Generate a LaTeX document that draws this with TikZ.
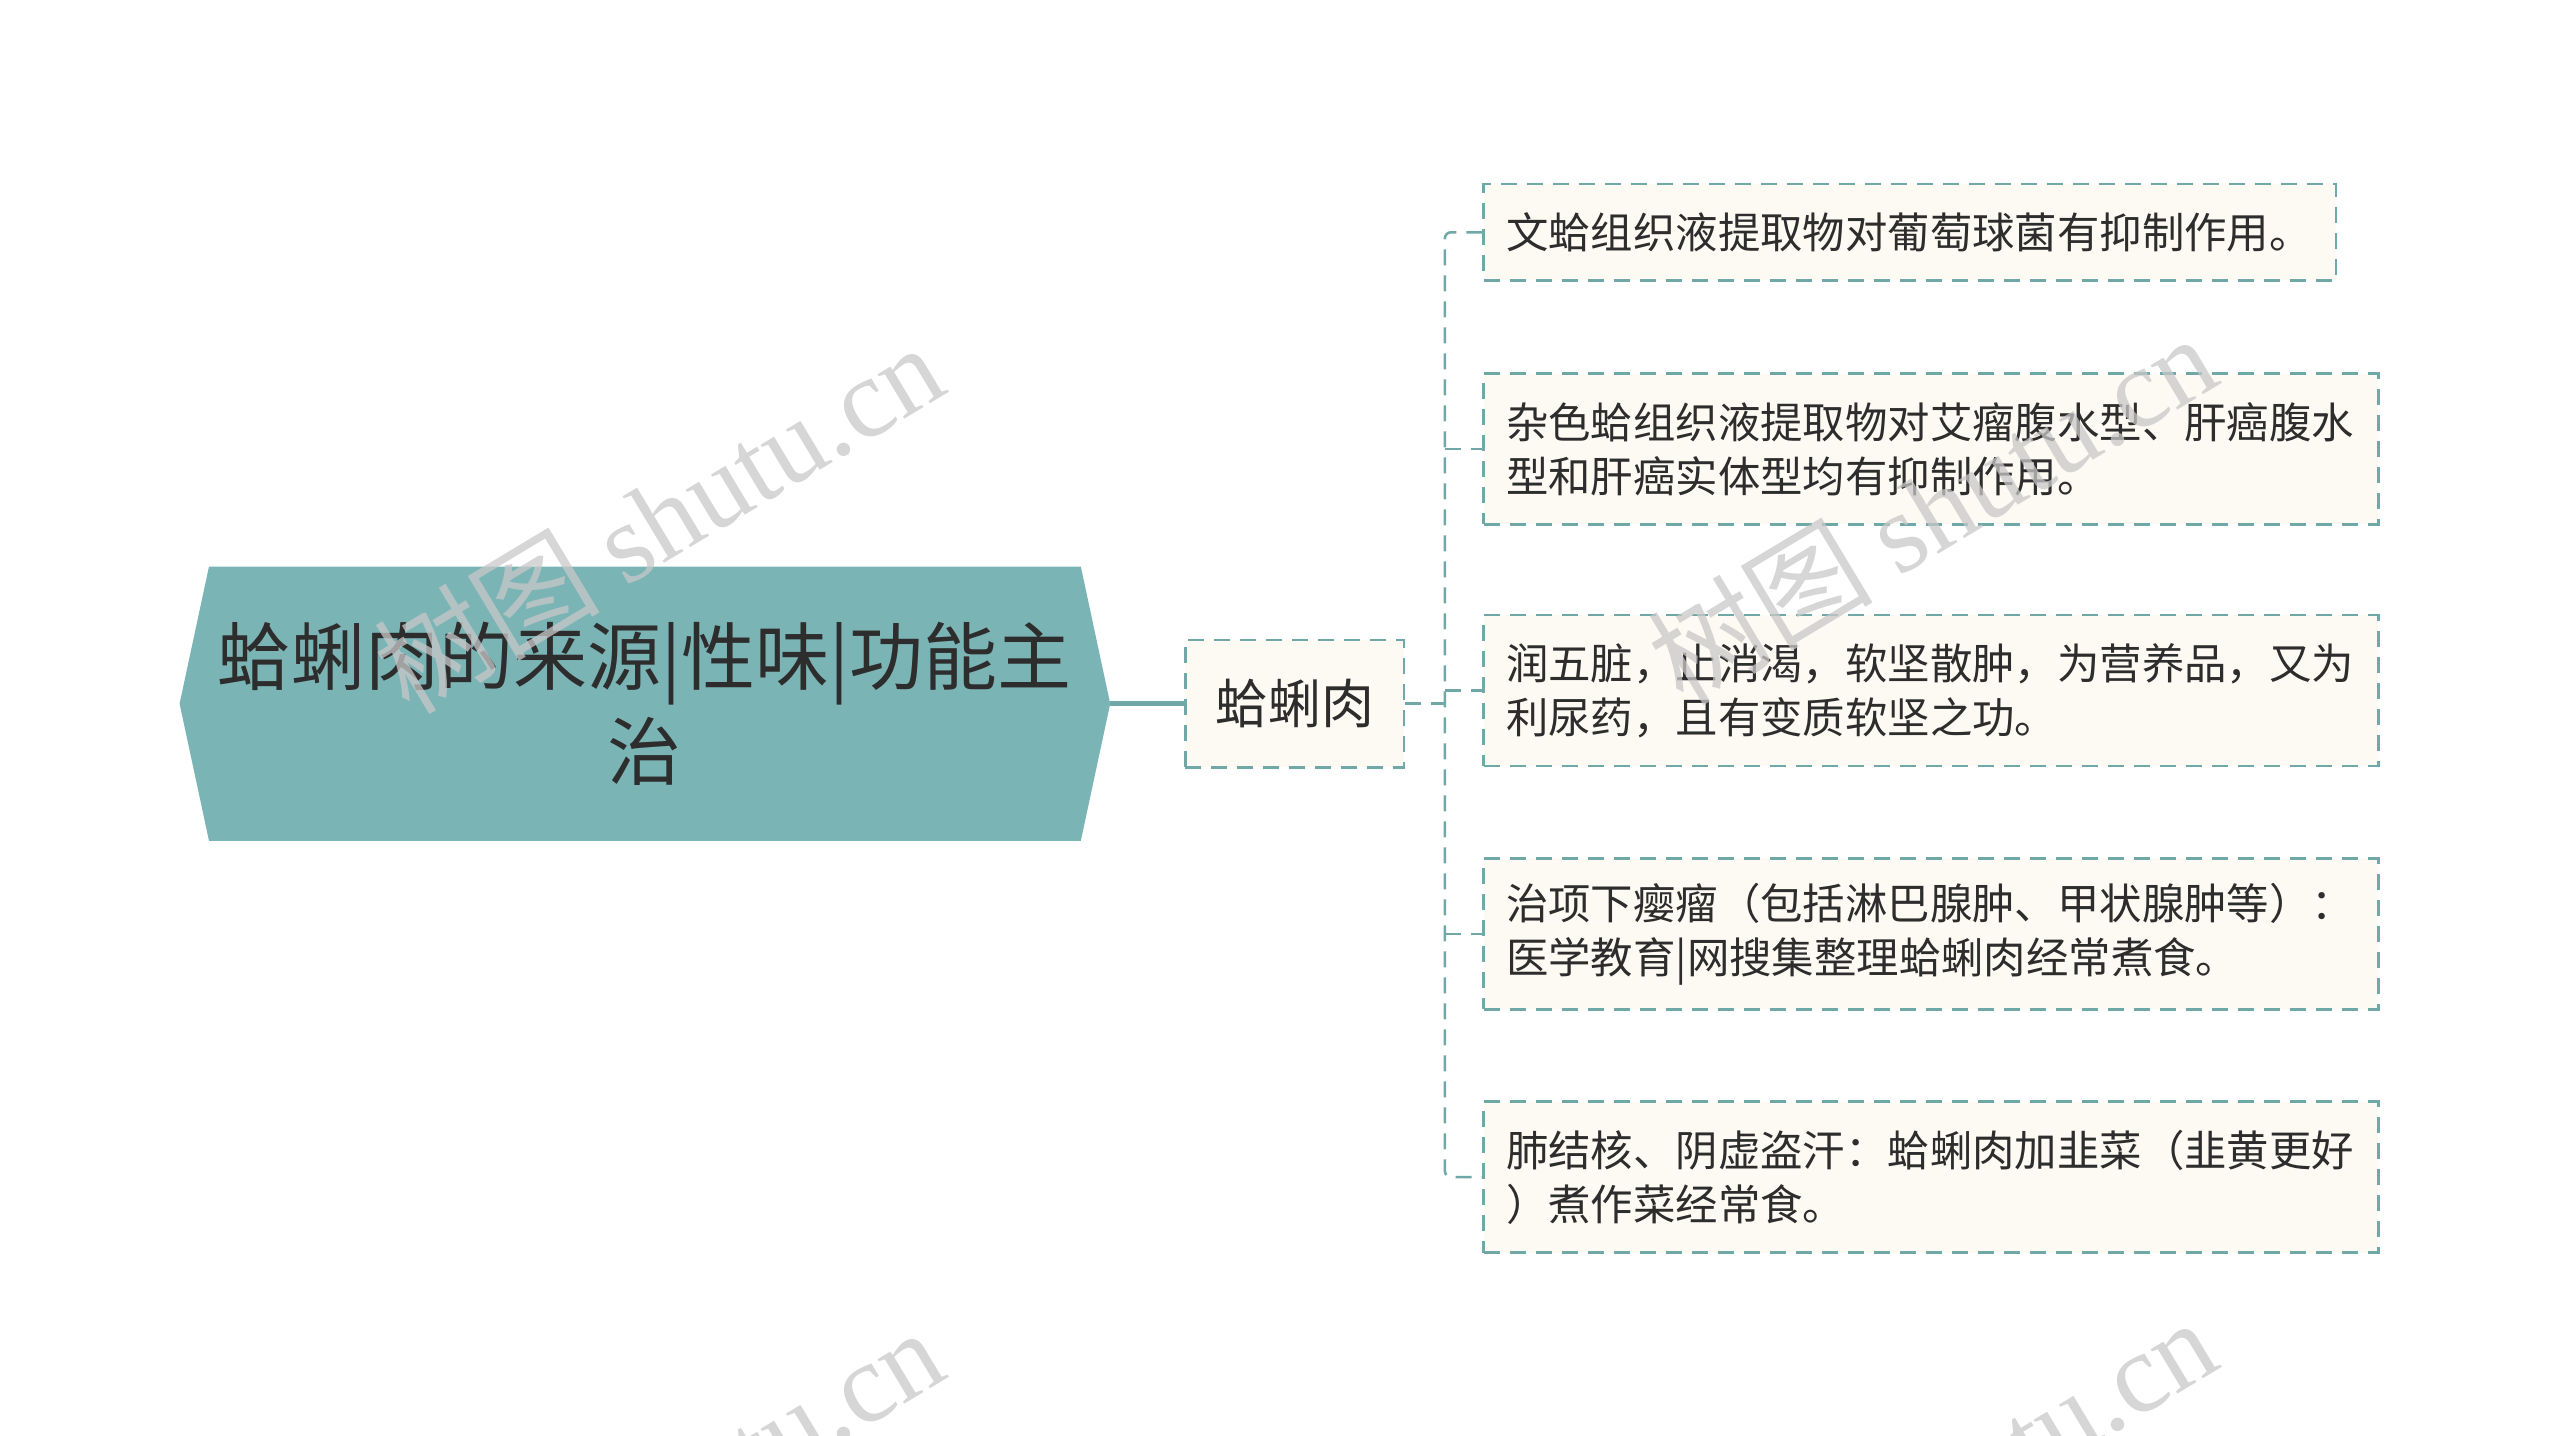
\documentclass[tikz,border=0pt]{standalone}
\usepackage{fontspec}
\setmainfont{Noto Sans CJK SC}
\newfontfamily\wmlatin{Liberation Serif}
\usetikzlibrary{calc}
\definecolor{rootfill}{RGB}{123,180,181}
\definecolor{bordc}{RGB}{112,168,168}
\definecolor{leaffill}{RGB}{252,250,242}
\definecolor{txt}{RGB}{45,45,45}
\definecolor{wm}{RGB}{200,200,200}
\begin{document}
\begin{tikzpicture}[x=1.6327pt,y=-1.6327pt,
  dashedbox/.style={draw=bordc, line width=2.5pt, dash pattern=on 16pt off 10pt, fill=leaffill, text=txt},
  leafbox/.style={dashedbox, anchor=north west, inner xsep=22.35pt, inner ysep=0pt, align=left,
    font=\fontsize{42.4pt}{54pt}\selectfont},
  leafone/.style={leafbox, text width=807.6pt, minimum height=96.3pt},
  leaftwo/.style={leafbox, text width=850pt, minimum height=151pt},
  midbox/.style={dashedbox, minimum width=218.8pt, minimum height=127.3pt, inner sep=0pt,
    font=\fontsize{53pt}{60pt}\selectfont},
  roottext/.style={text=txt, align=center, inner sep=0pt, font=\fontsize{74pt}{95pt}\selectfont},
  conn/.style={draw=bordc, line width=2.5pt, dash pattern=on 16pt off 10pt},
  solidconn/.style={draw=bordc, line width=5pt},
  wmark/.style={text=wm, text opacity=0.75, rotate=31, inner sep=0pt, font=\fontsize{113pt}{113pt}\selectfont}
]
\useasboundingbox (0,0) rectangle (1568,879);
% root
\fill[rootfill] (110,431) -- (128,347) -- (662,347) -- (680,431) -- (662,515) -- (128,515) -- cycle;
\node[roottext] (root) at (395,431) {蛤蜊肉的来源|性味|功能主\\治};
\coordinate (rootE) at (680,431);
% middle
\node[midbox] (mid) at (793,431) {蛤蜊肉};
\draw[solidconn] (rootE) -- (mid.west);
% leaves
\node[leafone] (l1) at (908,112) {文蛤组织液提取物对葡萄球菌有抑制作用。};
\node[leaftwo] (l2) at (908,228) {杂色蛤组织液提取物对艾瘤腹水型、肝癌腹水\\型和肝癌实体型均有抑制作用。};
\node[leaftwo] (l3) at (908,376) {润五脏，止消渴，软坚散肿，为营养品，又为\\利尿药，且有变质软坚之功。};
\node[leaftwo] (l4) at (908,525) {治项下瘿瘤（包括淋巴腺肿、甲状腺肿等）：\\医学教育|网搜集整理蛤蜊肉经常煮食。};
\node[leaftwo] (l5) at (908,674) {肺结核、阴虚盗汗：蛤蜊肉加韭菜（韭黄更好\\）煮作菜经常食。};
% connectors
\coordinate (tj) at (885,431);
\draw[conn] (mid.east) -- (tj);
\draw[conn, rounded corners=6pt] (l1.west) -| (tj) |- (l5.west);
\foreach \n in {l2,l3,l4} \draw[conn] (tj |- \n.west) -- (\n.west);
% watermarks
\begin{scope}
\clip (0,0) rectangle (1568,879);
\node[wmark] (w1) at (403,317) {树图 {\wmlatin shutu.cn}};
\node[wmark] (w2) at (1183,311) {树图 {\wmlatin shutu.cn}};
\node[wmark] (w3) at (403,920) {树图 {\wmlatin shutu.cn}};
\node[wmark] (w4) at (1183,914) {树图 {\wmlatin shutu.cn}};
\end{scope}
\end{tikzpicture}
\end{document}
